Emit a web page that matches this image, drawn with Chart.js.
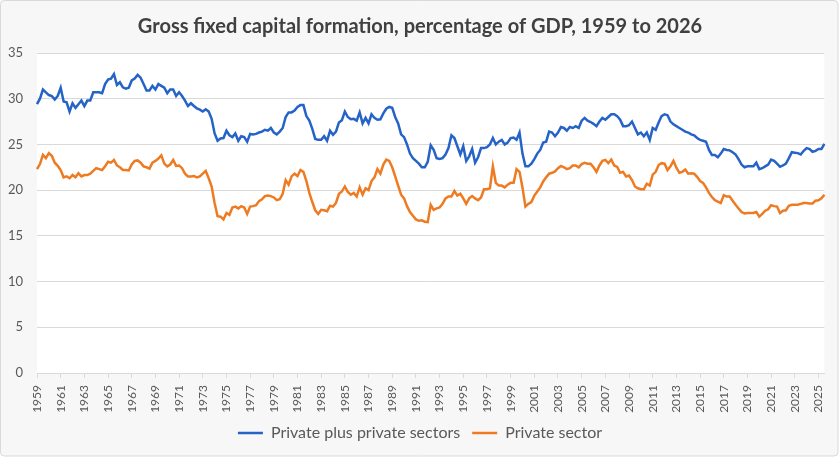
<!DOCTYPE html>
<html>
<head>
<meta charset="utf-8">
<script src="https://cdn.jsdelivr.net/npm/chart.js@4.4.1/dist/chart.umd.min.js"></script>
<style>
html,body{margin:0;padding:0;background:#ffffff;}
#wrap{width:840px;height:458px;}
</style>
</head>
<body>
<div id="wrap"><canvas id="c" width="840" height="458"></canvas></div>
<script>
// Quarterly categories, 1959 Q1 to 2025 Q3
const firstYear = 1959;
const lastYear = 2025;
const lastQuarter = 3;
const categories = [];
for (let y = firstYear; y <= lastYear; y++) {
  for (let q = 1; q <= 4; q++) {
    if (y === lastYear && q > lastQuarter) break;
    categories.push(y + ' Q' + q);
  }
}

// Private plus public sectors (% of GDP)
const privatePlusPublic = [
  29.4, 30.0, 31.0, 30.7, 30.4, 30.3, 29.9, 30.3, 31.2, 29.7,
  29.6, 28.6, 29.5, 29.0, 29.4, 29.8, 29.2, 29.8, 29.8, 30.7,
  30.7, 30.7, 30.6, 31.6, 32.1, 32.2, 32.7, 31.5, 31.8, 31.25,
  31.1, 31.2, 32.0, 32.2, 32.6, 32.3, 31.6, 30.9, 30.9, 31.4,
  31.0, 31.6, 31.4, 31.2, 30.6, 31.0, 31.0, 30.3, 30.7, 30.3,
  29.8, 29.2, 29.5, 29.2, 28.95, 28.8, 28.6, 28.85, 28.6, 27.8,
  26.2, 25.4, 25.65, 25.7, 26.5, 26.0, 25.8, 26.2, 25.4, 25.9,
  25.8, 25.3, 26.15, 26.1, 26.15, 26.3, 26.4, 26.6, 26.5, 26.8,
  26.3, 26.1, 26.4, 26.8, 28.0, 28.5, 28.5, 28.7, 29.1, 29.3,
  29.3, 28.1, 27.6, 26.7, 25.6, 25.5, 25.5, 25.9, 25.4, 26.5,
  26.05, 26.4, 27.4, 27.65, 28.6, 28.0, 27.75, 27.8, 27.6, 28.5,
  27.3, 27.9, 27.3, 28.3, 27.9, 27.7, 27.75, 28.4, 28.9, 29.1,
  29.0, 28.0, 27.3, 26.1, 25.8, 25.0, 24.0, 23.5, 23.2, 22.9,
  22.5, 22.5, 23.1, 24.9, 24.4, 23.5, 23.4, 23.5, 23.9, 24.6,
  26.0, 25.7, 24.8, 23.9, 24.8, 23.2, 23.7, 24.5, 23.0, 23.6,
  24.6, 24.6, 24.7, 25.0, 25.7, 25.0, 25.3, 25.5, 25.0, 25.2,
  25.7, 25.75, 25.5, 26.3, 24.0, 22.6, 22.6, 22.9, 23.4, 24.0,
  24.4, 25.2, 25.3, 26.4, 26.3, 25.9, 26.3, 26.9, 26.8, 26.5,
  26.9, 26.8, 27.0, 26.8, 27.6, 27.9, 27.6, 27.45, 27.25, 27.0,
  27.5, 27.9, 27.7, 28.0, 28.3, 28.3, 28.1, 27.7, 27.0, 27.0,
  27.1, 27.5, 26.8, 26.1, 26.3, 25.9, 26.3, 25.5, 26.8, 26.6,
  27.4, 28.1, 28.3, 28.2, 27.5, 27.2, 27.0, 26.8, 26.6, 26.4,
  26.3, 26.1, 26.0, 25.7, 25.5, 25.4, 25.3, 24.4, 23.85, 23.85,
  23.6, 24.0, 24.5, 24.4, 24.35, 24.15, 23.9, 23.4, 22.8, 22.5,
  22.6, 22.6, 22.6, 23.0, 22.3, 22.4, 22.6, 22.8, 23.35, 23.2,
  22.9, 22.55, 22.7, 22.9, 23.5, 24.15, 24.1, 24.05, 23.9, 24.3,
  24.6, 24.5, 24.2, 24.3, 24.5, 24.5, 25.05
];

// Private sector (% of GDP)
const privateSector = [
  22.3, 22.85, 23.85, 23.5, 24.05, 23.75, 23.0, 22.65, 22.2, 21.4,
  21.5, 21.3, 21.65, 21.4, 21.85, 21.5, 21.65, 21.65, 21.8, 22.1,
  22.4, 22.3, 22.2, 22.6, 23.1, 23.0, 23.3, 22.7, 22.5, 22.2,
  22.2, 22.15, 22.8, 23.2, 23.25, 23.0, 22.6, 22.5, 22.35, 23.0,
  23.2, 23.45, 23.8, 22.9, 22.6, 22.8, 23.3, 22.65, 22.7, 22.4,
  21.8, 21.5, 21.5, 21.55, 21.4, 21.5, 21.8, 22.1, 21.3, 20.4,
  18.6, 17.15, 17.1, 16.8, 17.5, 17.3, 18.1, 18.2, 18.0, 18.25,
  18.1, 17.4, 18.2, 18.25, 18.35, 18.8, 19.0, 19.35, 19.4, 19.35,
  19.2, 18.9, 19.0, 19.6, 21.1, 20.6, 21.5, 21.8, 21.55, 22.2,
  22.0, 21.0, 19.7, 18.7, 17.8, 17.4, 17.85, 17.8, 17.7, 18.3,
  18.2, 18.6, 19.6, 19.85, 20.4, 19.8, 19.5, 19.7, 19.3, 20.3,
  19.5, 20.2, 20.0, 21.0, 21.4, 22.3, 21.8, 22.8, 23.35, 23.2,
  22.5, 21.5, 20.5, 19.5, 19.1, 18.25, 17.6, 17.2, 16.8, 16.65,
  16.7, 16.55, 16.5, 18.4, 17.85, 18.0, 18.1, 18.5, 19.1, 19.3,
  19.3, 19.9, 19.4, 19.6, 19.1, 18.5, 19.1, 19.35, 19.1, 18.9,
  19.2, 20.1, 20.1, 20.2, 22.6, 20.8, 20.5, 20.5, 20.3, 20.6,
  20.8, 20.8, 22.3, 22.0, 20.3, 18.2, 18.5, 18.7, 19.4, 19.85,
  20.3, 20.95, 21.4, 21.8, 21.9, 22.05, 22.4, 22.65, 22.5, 22.3,
  22.4, 22.7, 22.7, 22.5, 22.85, 23.0, 22.9, 22.9, 22.5, 22.0,
  22.7, 23.2, 23.3, 22.95, 23.35, 22.7, 22.55, 21.9, 22.0, 21.5,
  21.6, 21.1, 20.4, 20.2, 20.1, 20.1, 20.7, 20.5, 21.7, 22.0,
  22.75, 22.95, 22.9, 22.2, 22.6, 23.2, 22.45, 21.9, 22.0, 22.25,
  21.8, 21.85, 21.8, 21.45, 21.0, 20.8, 20.3, 19.7, 19.25, 18.9,
  18.75, 18.6, 19.45, 19.3, 19.3, 18.85, 18.4, 18.0, 17.6, 17.45,
  17.5, 17.5, 17.5, 17.6, 17.1, 17.4, 17.75, 17.9, 18.35, 18.25,
  18.2, 17.5, 17.75, 17.8, 18.3, 18.4, 18.4, 18.4, 18.5, 18.6,
  18.6, 18.55, 18.55, 18.85, 18.9, 19.1, 19.5
];

const seriesNames = ['Private plus private sectors', 'Private sector'];
const yTicks = [0, 5, 10, 15, 20, 25, 30, 35];
const titleText = 'Gross fixed capital formation, percentage of GDP, 1959 to 2026';

const FONT = 'Lato, "Open Sans", "Noto Sans", sans-serif';

const bgPlugin = {
  id: 'bg',
  beforeDraw(chart) {
    const ctx = chart.ctx;
    const w = chart.width, h = chart.height;
    ctx.save();
    ctx.fillStyle = '#ffffff';
    ctx.fillRect(0, 0, w, h);
    ctx.beginPath();
    if (ctx.roundRect) ctx.roundRect(0.5, 0.5, w - 2.5, h - 2.5, 4);
    else ctx.rect(0.5, 0.5, w - 2.5, h - 2.5);
    ctx.fillStyle = '#f7f7f7';
    ctx.fill();
    ctx.strokeStyle = '#d9d9d9';
    ctx.lineWidth = 1;
    ctx.stroke();
    const a = chart.chartArea;
    ctx.fillStyle = '#ffffff';
    ctx.fillRect(a.left, a.top, a.right - a.left, a.bottom - a.top);
    ctx.restore();
  }
};

new Chart(document.getElementById('c'), {
  type: 'line',
  data: {
    labels: categories,
    datasets: [
      {
        label: seriesNames[0],
        data: privatePlusPublic,
        borderColor: '#2563c7',
        backgroundColor: '#2563c7',
        borderWidth: 2.5,
        pointRadius: 0,
        tension: 0,
        fill: false
      },
      {
        label: seriesNames[1],
        data: privateSector,
        borderColor: '#ee7b22',
        backgroundColor: '#ee7b22',
        borderWidth: 2.5,
        pointRadius: 0,
        tension: 0,
        fill: false
      }
    ]
  },
  options: {
    responsive: false,
    animation: false,
    devicePixelRatio: 1,
    layout: { padding: { left: 0, right: 0, top: 0, bottom: 7 } },
    plugins: {
      title: {
        display: true,
        text: titleText,
        color: '#404040',
        font: { family: FONT, size: 20, weight: 'bold' },
        padding: { top: 15, bottom: 14 }
      },
      legend: {
        position: 'bottom',
        labels: {
          usePointStyle: true,
          pointStyle: 'line',
          pointStyleWidth: 25,
          boxHeight: 16,
          color: '#595959',
          font: { family: FONT, size: 16 },
          padding: 12
        }
      },
      tooltip: { enabled: false }
    },
    scales: {
      x: {
        type: 'category',
        offset: false,
        afterBuildTicks(scale) {
          scale.ticks = scale.ticks.filter(t => {
            const lab = categories[t.value];
            const yr = parseInt(lab, 10);
            return lab.endsWith('Q1') && (yr - firstYear) % 2 === 0;
          });
        },
        afterFit(scale) { scale.height = 40; },
        ticks: {
          autoSkip: false,
          maxRotation: 90,
          minRotation: 90,
          color: '#595959',
          font: { family: FONT, size: 12 },
          padding: 7,
          callback(value) { return categories[value].slice(0, 4); }
        },
        grid: {
          display: true,
          drawOnChartArea: false,
          drawTicks: true,
          tickLength: 5,
          color: '#d9d9d9'
        },
        border: { display: true, color: '#d9d9d9', width: 1 }
      },
      y: {
        min: 0,
        max: 35,
        afterBuildTicks(scale) {
          scale.ticks = yTicks.map(v => ({ value: v }));
        },
        afterFit(scale) { scale.width = 37; },
        ticks: {
          color: '#595959',
          font: { family: FONT, size: 13 },
          padding: 14
        },
        grid: {
          color: '#d9d9d9',
          drawTicks: false
        },
        border: { display: false }
      },
      yRightSpace: {
        position: 'right',
        display: true,
        afterFit(scale) { scale.width = 15; },
        ticks: { display: false },
        grid: { display: false, drawTicks: false },
        border: { display: false }
      }
    }
  },
  plugins: [bgPlugin]
});
</script>
</body>
</html>
